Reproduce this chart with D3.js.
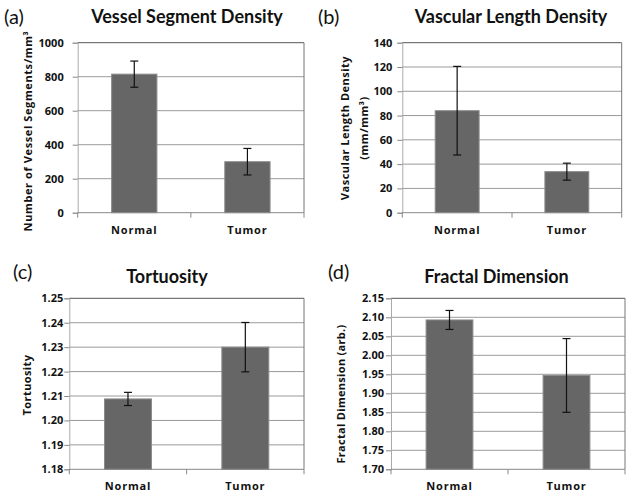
<!DOCTYPE html>
<html>
<head>
<meta charset="utf-8">
<script src="https://cdn.jsdelivr.net/npm/d3@7"></script>
<style>
  html, body { margin: 0; padding: 0; background: #fff; }
  svg { display: block; }
  text { font-family: Lato, "Open Sans", sans-serif; }
</style>
</head>
<body>
<svg id="chart" width="629" height="495"></svg>
<script>
// ---- Data ----
const categories = ["Normal", "Tumor"];

const vsdMeans = [815, 300];
const vsdErrors = [77, 78];
const vsdTicks = [0, 200, 400, 600, 800, 1000];

const vldMeans = [84, 33.8];
const vldErrors = [36.5, 7];
const vldTicks = [0, 20, 40, 60, 80, 100, 120, 140];

const tortMeans = [1.2088, 1.2300];
const tortErrors = [0.0027, 0.0101];
const tortTicks = [1.18, 1.19, 1.20, 1.21, 1.22, 1.23, 1.24, 1.25];

const fdMeans = [2.093, 1.947];
const fdErrors = [0.025, 0.097];
const fdTicks = [1.70, 1.75, 1.80, 1.85, 1.90, 1.95, 2.00, 2.05, 2.10, 2.15];

const panelLetters = ["(a)", "(b)", "(c)", "(d)"];
const panelTitles = ["Vessel Segment Density", "Vascular Length Density", "Tortuosity", "Fractal Dimension"];
const yTitles = [["Number of Vessel Segments/mm³"], ["Vascular Length Density", "(mm/mm³)"], ["Tortuosity"], ["Fractal Dimension (arb.)"]];

// ---- Layout ----
const panels = [
  { means: vsdMeans, errors: vsdErrors, ticks: vsdTicks, fmt: d3.format("d"),
    left: 77.7, right: 304, top: 42.7, bottom: 212.7,
    labelGap: 14, letterX: 4, letterY: 24, titleX: 187, titleY: 22.7,
    yTitleX: 28, yTitleY: 131, yTitleSize: 11, yTitleSpacing: 0.6 },
  { means: vldMeans, errors: vldErrors, ticks: vldTicks, fmt: d3.format("d"),
    left: 402.3, right: 621.7, top: 42.7, bottom: 212.7,
    labelGap: 10, letterX: 318, letterY: 24, titleX: 511, titleY: 22.7,
    yTitleX: 345.5, yTitleY: 128, yTitleSize: 11, yTitleSpacing: 0.5 },
  { means: tortMeans, errors: tortErrors, ticks: tortTicks, fmt: d3.format(".2f"),
    left: 69.3, right: 304, top: 298.3, bottom: 469.3,
    labelGap: 6, letterX: 13, letterY: 279, titleX: 167, titleY: 283.3,
    yTitleX: 27.5, yTitleY: 385, yTitleSize: 11, yTitleSpacing: 0.4 },
  { means: fdMeans, errors: fdErrors, ticks: fdTicks, fmt: d3.format(".2f"),
    left: 391, right: 625, top: 298.3, bottom: 469.3,
    labelGap: 7, letterX: 328, letterY: 279, titleX: 496.5, titleY: 282.7,
    yTitleX: 340.7, yTitleY: 394, yTitleSize: 11, yTitleSpacing: 0.3 }
];

const smallFont = "'Open Sans', Lato, sans-serif";
const svg = d3.select("#chart");

panels.forEach((p, i) => {
  const g = svg.append("g");
  const x = d3.scaleBand().domain(categories).range([p.left, p.right]).padding(0);
  const y = d3.scaleLinear().domain([p.ticks[0], p.ticks[p.ticks.length - 1]]).range([p.bottom, p.top]);
  const barW = x.bandwidth() * 0.4;

  // grid lines
  g.selectAll("line.grid").data(p.ticks.slice(1)).join("line")
    .attr("class", "grid")
    .attr("x1", p.left).attr("x2", p.right)
    .attr("y1", d => y(d)).attr("y2", d => y(d))
    .attr("stroke", (d, k) => k === p.ticks.length - 2 ? "#555" : "#9a9a9a")
    .attr("stroke-width", 1);

  // right border
  g.append("line")
    .attr("x1", p.right).attr("x2", p.right)
    .attr("y1", p.top).attr("y2", p.bottom)
    .attr("stroke", "#777");

  // left axis
  const yAxis = d3.axisLeft(y).tickValues(p.ticks).tickFormat(p.fmt).tickSize(5).tickPadding(p.labelGap - 5);
  const ya = g.append("g").attr("transform", `translate(${p.left},0)`).call(yAxis)
    .attr("font-family", null).attr("font-size", null);
  ya.select(".domain").attr("stroke", "#aaa");
  ya.selectAll(".tick line").attr("stroke", "#888");
  ya.selectAll(".tick text")
    .attr("fill", "#111")
    .style("font-size", "11px")
    .style("font-weight", "700")
    .style("font-family", smallFont);

  // bars
  g.selectAll("rect.bar").data(categories).join("rect")
    .attr("class", "bar")
    .attr("x", d => x(d) + (x.bandwidth() - barW) / 2)
    .attr("width", barW)
    .attr("y", (d, k) => y(p.means[k]))
    .attr("height", (d, k) => y(p.ticks[0]) - y(p.means[k]))
    .attr("fill", "#666666")
    .attr("stroke", "#8a8a8a")
    .attr("stroke-width", 1);

  // bottom axis line + ticks
  g.append("line")
    .attr("x1", p.left).attr("x2", p.right)
    .attr("y1", p.bottom).attr("y2", p.bottom)
    .attr("stroke", "#888");
  const sepTicks = [p.left, x(categories[1]), p.right];
  g.selectAll("line.sep").data(sepTicks).join("line")
    .attr("class", "sep")
    .attr("x1", d => d).attr("x2", d => d)
    .attr("y1", p.bottom).attr("y2", p.bottom + 5)
    .attr("stroke", "#888");

  // category labels
  g.selectAll("text.cat").data(categories).join("text")
    .attr("class", "cat")
    .attr("x", d => x(d) + x.bandwidth() / 2)
    .attr("y", p.bottom + 21)
    .attr("text-anchor", "middle")
    .style("font-size", "11px")
    .style("font-weight", "700")
    .style("font-family", smallFont)
    .style("letter-spacing", "0.8px")
    .attr("fill", "#111")
    .text(d => d);

  // error bars
  const capW = 4;
  categories.forEach((c, k) => {
    const cx = x(c) + x.bandwidth() / 2;
    const hi = y(p.means[k] + p.errors[k]);
    const lo = y(p.means[k] - p.errors[k]);
    g.append("line").attr("x1", cx).attr("x2", cx).attr("y1", hi).attr("y2", lo).attr("stroke", "#111").attr("stroke-width", 1.2);
    [hi, lo].forEach(yy => {
      g.append("line").attr("x1", cx - capW).attr("x2", cx + capW).attr("y1", yy).attr("y2", yy).attr("stroke", "#111").attr("stroke-width", 1.2);
    });
  });

  // panel letter
  g.append("text")
    .attr("x", p.letterX).attr("y", p.letterY)
    .style("font-size", "20px")
    .attr("fill", "#111")
    .text(panelLetters[i]);

  // title
  g.append("text")
    .attr("x", p.titleX).attr("y", p.titleY)
    .attr("text-anchor", "middle")
    .style("font-size", "18px")
    .style("font-weight", "bold")
    .attr("fill", "#111")
    .text(panelTitles[i]);

  // y title
  const lines = yTitles[i];
  const yt = g.append("text")
    .attr("transform", `translate(${p.yTitleX},${p.yTitleY}) rotate(-90)`)
    .attr("text-anchor", "middle")
    .style("font-size", p.yTitleSize + "px")
    .style("font-weight", "700")
    .style("font-family", smallFont)
    .style("letter-spacing", p.yTitleSpacing + "px")
    .attr("fill", "#111");
  lines.forEach((ln, k) => {
    yt.append("tspan").attr("x", 0).attr("dy", k === 0 ? "0.35em" : "1.7em").text(ln);
  });
});
</script>
</body>
</html>
